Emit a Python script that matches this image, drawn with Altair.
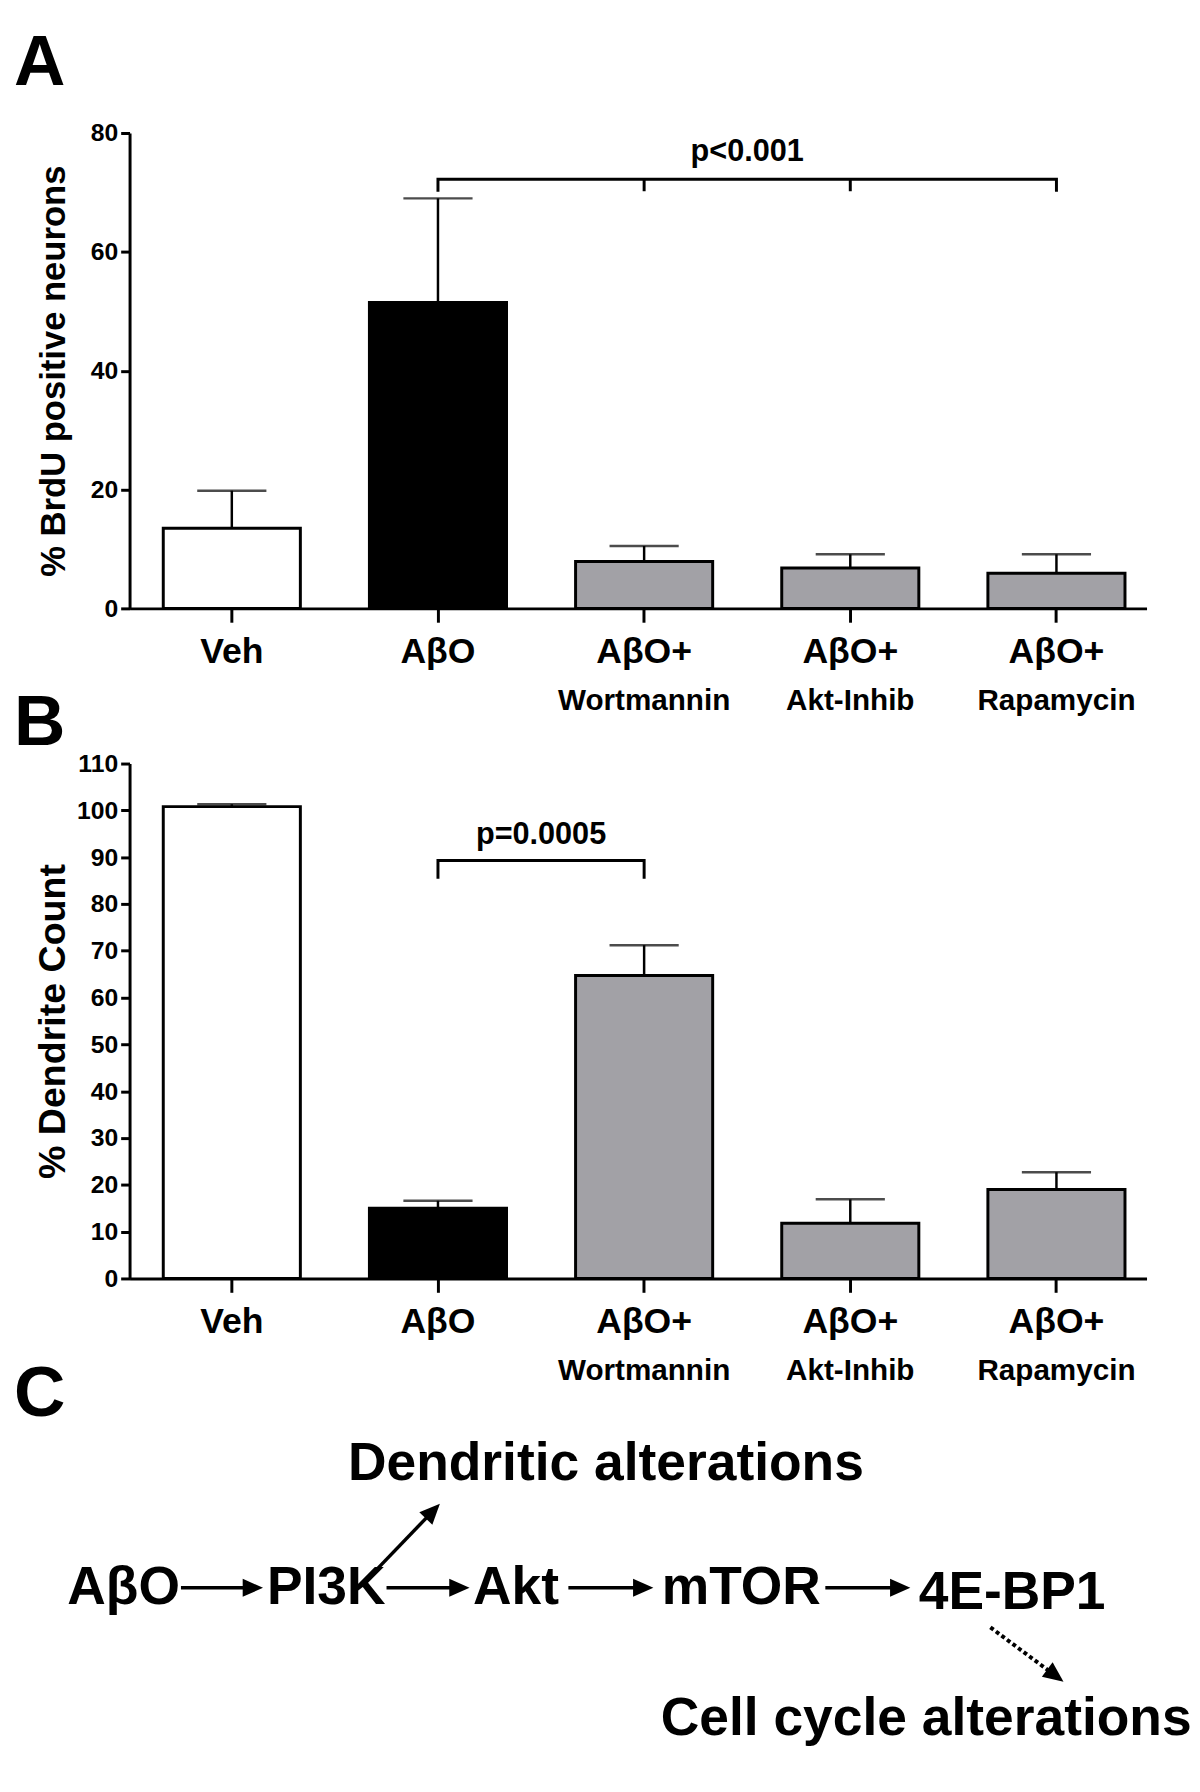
import math
import altair as alt
import pandas as pd

# ---------------- data ----------------
groups = ["Veh", "AβO", "Wortmannin", "Akt-Inhib", "Rapamycin"]
label_line1 = ["Veh", "AβO", "AβO+", "AβO+", "AβO+"]
label_line2 = ["", "", "Wortmannin", "Akt-Inhib", "Rapamycin"]
bar_fills = ["#ffffff", "#000000", "#a2a1a6", "#a2a1a6", "#a2a1a6"]

brdu_mean = [13.5, 51.5, 7.9, 6.8, 5.9]
brdu_upper = [19.8, 69.0, 10.5, 9.1, 9.1]
brdu_ticks = [0, 20, 40, 60, 80]

dend_mean = [100.8, 15.0, 64.7, 11.8, 19.0]
dend_upper = [101.3, 16.6, 71.2, 16.9, 22.7]
dend_ticks = [0, 10, 20, 30, 40, 50, 60, 70, 80, 90, 100, 110]

# significance brackets
brdu_bracket_groups = ["AβO", "AβO", "Rapamycin", "Rapamycin"]
brdu_bracket_values = [70.1, 72.2, 72.2, 70.1]
brdu_drop_groups = ["Wortmannin", "Akt-Inhib"]
brdu_drop_low = [70.2, 70.2]
brdu_drop_high = [72.2, 72.2]
brdu_p_group = ["Wortmannin"]
brdu_p_value = [76.8]
brdu_p_text = ["p<0.001"]

dend_bracket_groups = ["AβO", "AβO", "Wortmannin", "Wortmannin"]
dend_bracket_values = [85.4, 89.3, 89.3, 85.4]
dend_drop_groups = []
dend_drop_low = []
dend_drop_high = []
dend_p_group = ["AβO"]
dend_p_value = [94.8]
dend_p_text = ["p=0.0005"]

# pathway diagram (panel C), positions in diagram units
node_text = ["Dendritic alterations", "AβO", "PI3K", "Akt", "mTOR", "4E-BP1",
             "Cell cycle alterations"]
node_x = [482, -6, 199, 391, 619, 893, 806]
node_y = [31, 156, 156, 156, 156, 161, 289]

arrow_x1 = [52, 260, 444, 704, 240, 871]
arrow_y1 = [156, 156, 156, 156, 148, 196]
arrow_x2 = [135, 344, 530, 790, 314, 945]
arrow_y2 = [156, 156, 156, 156, 71, 251]
arrow_kind = ["solid", "solid", "solid", "solid", "solid", "dotted"]

# ---------------- layout ----------------
W = 1029
H_A = 481
H_B = 521
H_C = 341
FONT = "Liberation Sans"
LETTER_SIZE = 72
PAD_INNER = 0.335
PAD_OUTER = 0.134
ALIGN = 0.61
STEP = W / (len(groups) - PAD_INNER + 2 * PAD_OUTER)

label_map = "{" + ",".join(f"'{g}':'{l}'" for g, l in zip(groups, label_line1)) + "}"


def bar_panel(mean, upper, ymax, ticks, ytitle, title_size, height, br_groups, br_vals,
              drop_groups, drop_low, drop_high, p_group, p_val, p_text,
              letter, title_offset):
    df = pd.DataFrame({"g": groups, "line2": label_line2, "v": mean, "v2": upper})
    xscale = alt.Scale(domain=groups, paddingInner=PAD_INNER, paddingOuter=PAD_OUTER,
                       align=ALIGN)
    xaxis = alt.Axis(title=None, labelExpr=f"{label_map}[datum.value]", labelAngle=0,
                     labelFontSize=36, labelFontWeight="bold", labelPadding=13,
                     labelBaseline="top", labelColor="black", tickSize=14, tickWidth=3,
                     tickColor="black", domainWidth=3, domainColor="black")
    yscale = alt.Scale(domain=[0, ymax], nice=False, zero=True)
    yaxis = alt.Axis(title=ytitle, values=ticks, grid=False, labelFontSize=25,
                     labelFontWeight="bold", labelColor="black",
                     labelPadding=3, tickSize=9, tickWidth=3, tickColor="black",
                     domainWidth=3, domainColor="black", titleFontSize=title_size,
                     titleFontWeight="bold", titleColor="black", titleX=-77,
                     titleY=height / 2, titleBaseline="middle", titleAlign="center",
                     titleAngle=270)
    X = alt.X("g:N", sort=groups, scale=xscale, axis=xaxis)

    def Y(field):
        return alt.Y(f"{field}:Q", scale=yscale, axis=yaxis)

    bars = alt.Chart(df).mark_bar(stroke="black", strokeWidth=3).encode(
        x=X, y=Y("v"),
        fill=alt.Fill("g:N", scale=alt.Scale(domain=groups, range=bar_fills), legend=None))
    err = alt.Chart(df).mark_rule(strokeWidth=2.5, color="black").encode(
        x=X, y=Y("v"), y2="v2:Q")
    caps = alt.Chart(df).mark_tick(size=70, thickness=2.5, color="black").encode(
        x=X, y=Y("v2"))
    sub = alt.Chart(df).mark_text(fontSize=30, fontWeight="bold", baseline="middle",
                                  color="black").encode(
        x=X, y=alt.value(height + 94), text="line2:N")

    bdf = pd.DataFrame({"g": br_groups, "v": br_vals, "o": list(range(len(br_groups)))})
    bracket = alt.Chart(bdf).mark_line(strokeWidth=3, color="black").encode(
        x=X, y=Y("v"), order="o:Q")
    layers = [bars, err, caps, sub, bracket]
    if drop_groups:
        ddf = pd.DataFrame({"g": drop_groups, "v": drop_low, "v2": drop_high})
        drops = alt.Chart(ddf).mark_rule(strokeWidth=3, color="black").encode(
            x=X, y=Y("v"), y2="v2:Q")
        layers.append(drops)
    pdf = pd.DataFrame({"g": p_group, "v": p_val, "t": p_text})
    ptxt = alt.Chart(pdf).mark_text(fontSize=31, fontWeight="bold",
                                    baseline="middle", dx=STEP / 2, color="black").encode(
        x=X, y=Y("v"), text="t:N")
    layers.append(ptxt)

    return alt.layer(*layers).properties(
        width=W, height=height,
        title=alt.TitleParams(text=letter, anchor="start", frame="group", dx=-117,
                              fontSize=LETTER_SIZE, fontWeight="bold", color="black",
                              offset=title_offset))


panel_a = bar_panel(brdu_mean, brdu_upper, 80, brdu_ticks, "% BrdU positive neurons", 35,
                    H_A, brdu_bracket_groups, brdu_bracket_values, brdu_drop_groups,
                    brdu_drop_low, brdu_drop_high, brdu_p_group, brdu_p_value,
                    brdu_p_text, "A", 22)
panel_b = bar_panel(dend_mean, dend_upper, 110, dend_ticks, "%  Dendrite Count", 38,
                    H_B, dend_bracket_groups, dend_bracket_values, dend_drop_groups,
                    dend_drop_low, dend_drop_high, dend_p_group, dend_p_value,
                    dend_p_text, "B", -8)

# ---------------- panel C: pathway ----------------
cx = alt.Scale(domain=[0, W], nice=False, zero=False)
cy = alt.Scale(domain=[0, H_C], nice=False, zero=False, reverse=True)

ndf = pd.DataFrame({"x": node_x, "y": node_y, "t": node_text})
nodes = alt.Chart(ndf).mark_text(fontSize=54, fontWeight="bold", baseline="middle",
                                 color="black").encode(
    x=alt.X("x:Q", scale=cx, axis=None), y=alt.Y("y:Q", scale=cy, axis=None), text="t:N")

HEAD_BACK = 12
rows = []
for x1, y1, x2, y2, k in zip(arrow_x1, arrow_y1, arrow_x2, arrow_y2, arrow_kind):
    dx, dy = x2 - x1, y2 - y1
    L = math.hypot(dx, dy)
    ang = math.degrees(math.atan2(dx, -dy)) % 360
    rows.append({"x1": x1, "y1": y1, "x2": x2, "y2": y2,
                 "xe": x2 - HEAD_BACK * dx / L, "ye": y2 - HEAD_BACK * dy / L,
                 "ang": ang, "kind": k})
adf = pd.DataFrame(rows)

solid = alt.Chart(adf).transform_filter(alt.datum.kind == "solid").mark_rule(
    strokeWidth=3.5, color="black").encode(
    x=alt.X("x1:Q", scale=cx, axis=None), y=alt.Y("y1:Q", scale=cy, axis=None),
    x2="xe:Q", y2="ye:Q")
dotted = alt.Chart(adf).transform_filter(alt.datum.kind == "dotted").mark_rule(
    strokeWidth=4, color="black", strokeDash=[4, 3]).encode(
    x=alt.X("x1:Q", scale=cx, axis=None), y=alt.Y("y1:Q", scale=cy, axis=None),
    x2="xe:Q", y2="ye:Q")
heads = alt.Chart(adf).mark_point(
    shape="M0,0L-0.8,1.8L0.8,1.8Z", filled=True, size=520, color="black",
    opacity=1).encode(
    x=alt.X("x2:Q", scale=cx, axis=None), y=alt.Y("y2:Q", scale=cy, axis=None),
    angle=alt.Angle("ang:Q", scale=None))

panel_c = alt.layer(solid, dotted, heads, nodes).properties(
    width=W, height=H_C,
    title=alt.TitleParams(text="C", anchor="start", frame="group", dx=-117,
                          fontSize=LETTER_SIZE, fontWeight="bold", color="black",
                          offset=3))

chart = alt.vconcat(panel_a, panel_b, panel_c, spacing=157, bounds="flush").configure(
    font=FONT, padding={"left": 6, "top": 9, "right": 0, "bottom": 0}
).configure_view(stroke=None)

chart.save("out.html", embed_options={"renderer": "svg", "actions": False})
